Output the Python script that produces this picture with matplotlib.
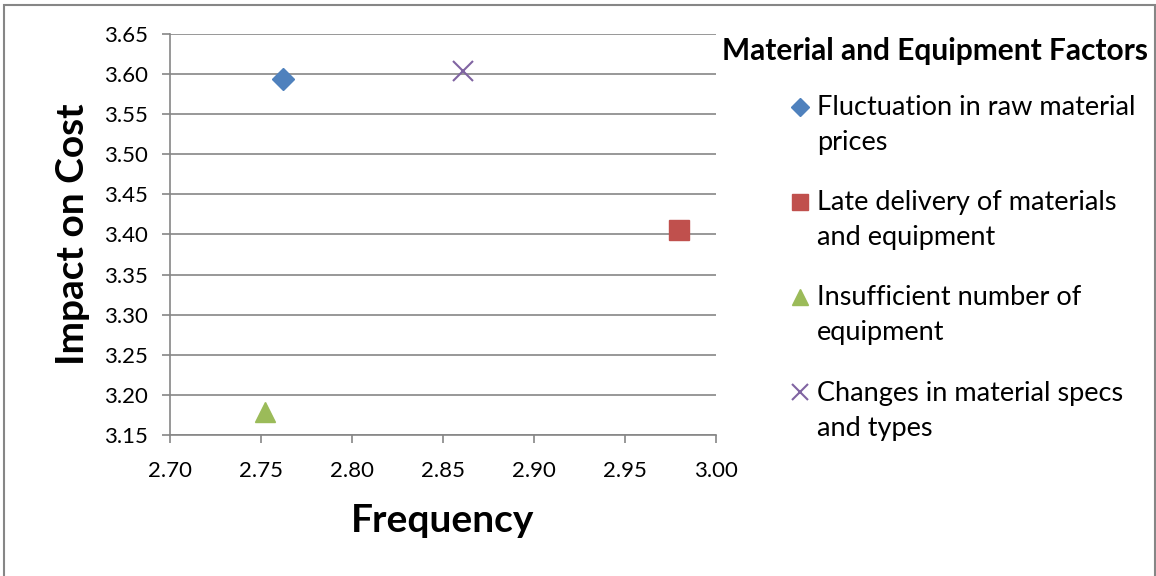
import matplotlib.pyplot as plt
from matplotlib.patches import Rectangle
from matplotlib.legend_handler import HandlerLine2D
from matplotlib.transforms import ScaledTranslation

# Material and equipment factors: frequency vs. impact on cost
factors = [
    "Fluctuation in raw material\nprices",
    "Late delivery of materials\nand equipment",
    "Insufficient number of\nequipment",
    "Changes in material specs\nand types",
]
frequency = [2.762, 2.980, 2.752, 2.861]
impact = [3.594, 3.406, 3.179, 3.604]

markers = ["D", "s", "^", "x"]
sizes = [11, 14, 14, 14]
colors = ["#4F81BD", "#C0504D", "#9BBB59", "#8064A2"]


class FirstLineHandler(HandlerLine2D):
    """Put the legend marker next to the first line of a two-line label."""

    def create_artists(self, legend, orig_handle, xdescent, ydescent,
                       width, height, fontsize, trans):
        shift = ScaledTranslation(0, 13.5 / 72, legend.figure.dpi_scale_trans)
        return super().create_artists(legend, orig_handle, xdescent, ydescent,
                                      width, height, fontsize, trans + shift)


plt.rcParams["font.family"] = ["Lato", "DejaVu Sans"]

fig = plt.figure(figsize=(11.56, 5.76), dpi=100)
ax = fig.add_axes([0.147, 0.245, 0.472, 0.696])

for name, fx, iy, m, s, c in zip(factors, frequency, impact, markers, sizes, colors):
    if m == "x":
        ax.plot(fx, iy, m, color=c, markersize=s, markeredgewidth=1.5, label=name)
    else:
        ax.plot(fx, iy, m, color=c, markersize=s, markeredgecolor=c, label=name)

ax.set_xlim(2.70, 3.00)
ax.set_ylim(3.15, 3.65)
ax.set_xticks([2.70, 2.75, 2.80, 2.85, 2.90, 2.95, 3.00])
ax.set_yticks([3.15 + 0.05 * i for i in range(11)])
ax.xaxis.set_major_formatter(plt.FormatStrFormatter("%.2f"))
ax.yaxis.set_major_formatter(plt.FormatStrFormatter("%.2f"))

ax.grid(axis="y", color="#868686", linewidth=1.2)
ax.set_axisbelow(True)
for side in ["top", "right"]:
    ax.spines[side].set_visible(False)
for side in ["left", "bottom"]:
    ax.spines[side].set_color("#868686")
    ax.spines[side].set_linewidth(1.2)
ax.tick_params(axis="both", colors="#868686", length=6, width=1.2,
               labelcolor="black", labelsize=16)
ax.tick_params(axis="x", pad=13)
ax.tick_params(axis="y", pad=10)

ax.set_xlabel("Frequency", fontsize=28, fontweight="bold", labelpad=16)
ax.set_ylabel("Impact on Cost", fontsize=28, fontweight="bold", labelpad=10)

# legend title drawn on its own so the entries can sit under it freely
fig.text(0.8085, 1 - 51 / 576, "Material and Equipment Factors",
         ha="center", va="center", fontsize=21.5, fontweight="bold")

handler_map = {h: FirstLineHandler() for h in ax.get_lines()}
leg = ax.legend(loc="upper left", bbox_to_anchor=(0.680, 0.835),
                bbox_transform=fig.transFigure, frameon=False,
                fontsize=19.5, handletextpad=0.13, labelspacing=1.3,
                handlelength=1.0, markerscale=0.8, borderaxespad=0,
                borderpad=0, handler_map=handler_map)
for t in leg.get_texts():
    t.set_linespacing(1.5)

fig.patches.append(Rectangle((0.0035, -0.05), 0.9955, 1.041,
                             transform=fig.transFigure, fill=False,
                             edgecolor="#868686", linewidth=1.5))

fig.savefig("out.png", dpi=100)
